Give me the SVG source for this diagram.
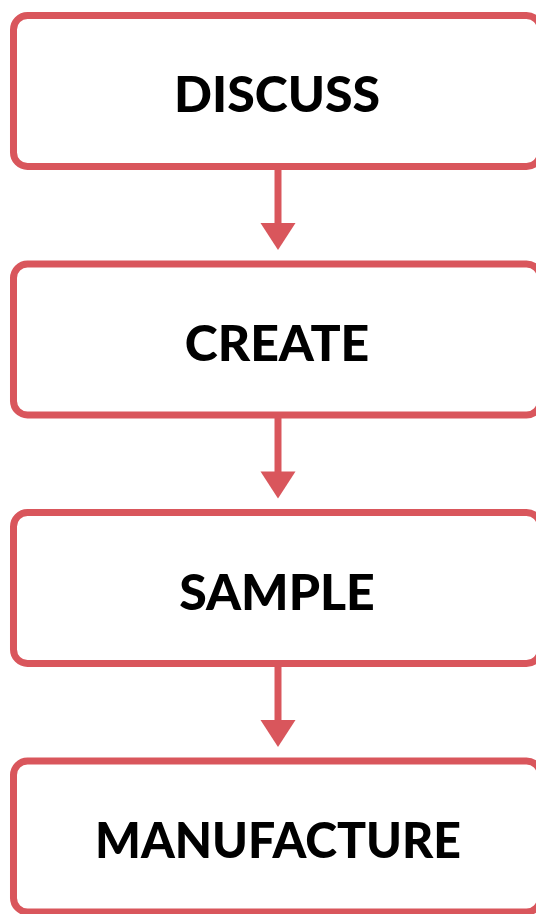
<svg xmlns="http://www.w3.org/2000/svg" width="536" height="914" viewBox="0 0 536 914">
<style>
.box{fill:#fff;stroke:#d9565c;stroke-width:7}
.lbl{font-family:Lato,"Liberation Sans",sans-serif;font-weight:900;font-size:50px;fill:#000;text-anchor:middle}
.con{stroke:#d9565c;stroke-width:7;fill:none}
.head{fill:#d9565c}
</style>
<rect width="536" height="914" fill="#fff"/>
<g id="connectors">
<line class="con" x1="278" y1="166" x2="278" y2="226"/>
<polygon class="head" points="260.5,223 295.5,223 278,250"/>
<line class="con" x1="278" y1="415" x2="278" y2="474"/>
<polygon class="head" points="260.5,471.5 295.5,471.5 278,498.5"/>
<line class="con" x1="278" y1="663" x2="278" y2="722"/>
<polygon class="head" points="260.5,720 295.5,720 278,747"/>
</g>
<g id="discuss"><rect class="box" x="13.5" y="15.5" width="527" height="151" rx="14"/><text class="lbl" x="277" y="112">DISCUSS</text></g>
<g id="create"><rect class="box" x="13.5" y="264" width="527" height="151" rx="14"/><text class="lbl" x="277" y="361">CREATE</text></g>
<g id="sample"><rect class="box" x="13.5" y="512.5" width="527" height="151" rx="14"/><text class="lbl" x="277" y="610">SAMPLE</text></g>
<g id="manufacture"><rect class="box" x="13.5" y="761" width="527" height="151" rx="14"/><text class="lbl" x="278" y="858" textLength="366" lengthAdjust="spacingAndGlyphs">MANUFACTURE</text></g>
</svg>
